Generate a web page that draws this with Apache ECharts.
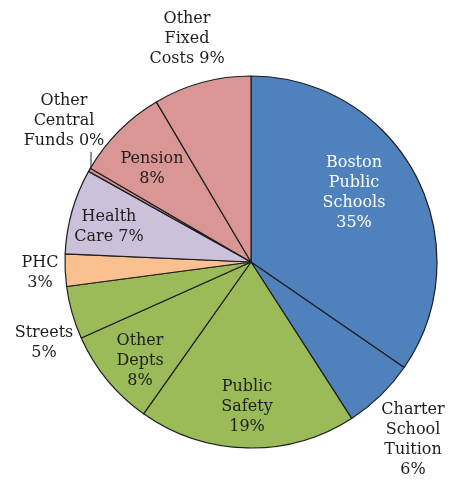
<!DOCTYPE html>
<html>
<head>
<meta charset="utf-8">
<script src="https://cdn.jsdelivr.net/npm/echarts@6/dist/echarts.min.js"></script>
<style>html,body{margin:0;padding:0;background:#fff;}#c{width:452px;height:481px;}</style>
</head>
<body>
<div id="c"></div>
<script>
var categories = ['Boston\nPublic\nSchools', 'Charter\nSchool\nTuition', 'Public\nSafety', 'Other\nDepts', 'Streets', 'PHC', 'Health\nCare', 'Other\nCentral\nFunds', 'Pension', 'Other\nFixed\nCosts'];
var values = [34.6, 6.3, 18.9, 8.5, 4.6, 2.8, 7.4, 0.3, 8.1, 8.5];
var pctLabels = ['35%', '6%', '19%', '8%', '5%', '3%', '7%', '0%', '8%', '9%'];
var pctOnSameLine = [false, false, false, false, false, false, true, true, false, true];
var colors = ['#4F81BD', '#4F81BD', '#9BBB59', '#9BBB59', '#9BBB59', '#FAC090', '#CCC1DA', '#D99694', '#D99694', '#D99694'];
var insideIdx = [0, 2, 3, 6, 8];

// label anchor positions (layout only)
var labelPos = [[354,193],[413,440],[247,407],[140,361],[44,343],[40,273],[109,227],[64,121],[152,169],[187,39]];

var chart = echarts.init(document.getElementById('c'), null, {renderer: 'canvas'});
var data = categories.map(function (n, i) {
  var inside = insideIdx.indexOf(i) >= 0;
  return {
    name: n,
    value: values[i],
    itemStyle: {color: colors[i]},
    label: {position: inside ? 'inside' : 'outside', color: i === 0 ? '#ffffff' : '#1e1e1e'},
    labelLine: {show: i === 7, lineStyle: {color: '#1e1e1e', width: 1}}
  };
});
chart.setOption({
  animation: false,
  series: [{
    type: 'pie',
    center: [251, 262],
    radius: 186,
    startAngle: 90,
    clockwise: true,
    avoidLabelOverlap: false,
    itemStyle: {borderColor: '#1e1e1e', borderWidth: 1.2},
    label: {
      fontFamily: 'DejaVu Serif',
      fontSize: 16,
      lineHeight: 20,
      align: 'center',
      formatter: function (p) {
        var i = p.dataIndex;
        return categories[i] + (pctOnSameLine[i] ? ' ' : '\n') + pctLabels[i];
      }
    },
    labelLine: {show: false},
    labelLayout: function (params) {
      var i = params.dataIndex;
      var r = {x: labelPos[i][0], y: labelPos[i][1], align: 'center', verticalAlign: 'middle'};
      if (i === 7) {
        r.labelLinePoints = [[91, 169], [91, 152], [91, 152]];
      }
      return r;
    },
    data: data
  }]
});
</script>
</body>
</html>
